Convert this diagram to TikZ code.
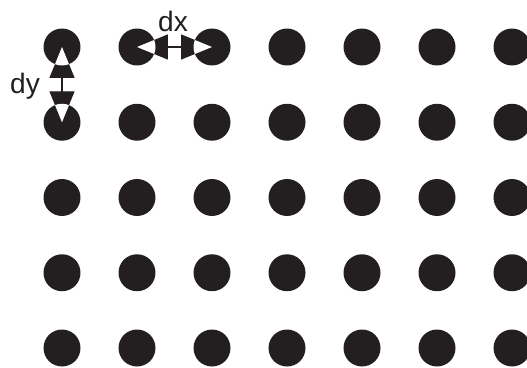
\documentclass[tikz,border=0pt]{standalone}
\usepackage{fontspec}
\setmainfont{Liberation Sans}
\usepackage{tikz}
\usetikzlibrary{positioning, arrows.meta}

\definecolor{dotblack}{HTML}{231F20}

\begin{document}
\begin{tikzpicture}[
  x=0.02cm, y=-0.02cm,
  dot/.style={circle, fill=dotblack, minimum size=0.74cm, inner sep=0pt},
  dim/.style={line width=0.8pt, draw=dotblack, {Triangle[length=0.62cm, width=0.5cm]}-{Triangle[length=0.62cm, width=0.5cm]}},
  lbl/.style={inner sep=0pt, font=\fontsize{16}{19}\selectfont, text=dotblack}
]
  \useasboundingbox (0,0) rectangle (527,368);

  % grid of dots
  \foreach \i in {1,...,7}
    \foreach \j in {1,...,5}
      \node[dot] (p\i\j) at ({62+75*(\i-1)},{47+75.25*(\j-1)}) {};

  % spacing arrows
  \draw[dim] (p21.center) -- (p31.center);
  \draw[dim] (p11.center) -- (p12.center);

  % white part of the tips inside the dots
  \begin{scope}
    \clip (p21.center) circle[radius=18.5] (p31.center) circle[radius=18.5]
          (p11.center) circle[radius=18.5] (p12.center) circle[radius=18.5];
    \draw[dim, draw=white, fill=white] (p21.center) -- (p31.center);
    \draw[dim, draw=white, fill=white] (p11.center) -- (p12.center);
  \end{scope}

  % labels
  \node[lbl] (dx) at (173,21) {dx};
  \node[lbl] (dy) at (25,86) {dy};
\end{tikzpicture}
\end{document}
